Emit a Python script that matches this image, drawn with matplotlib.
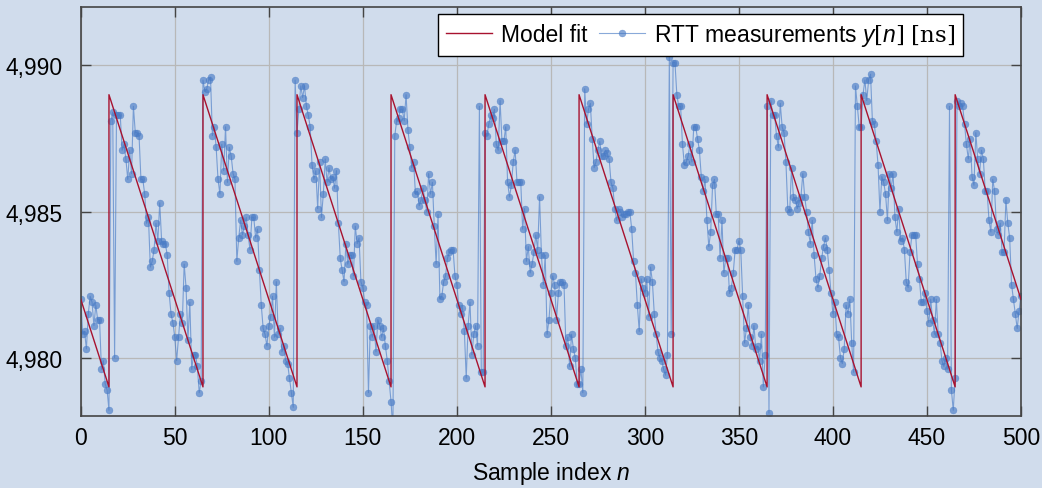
import matplotlib
matplotlib.use("Agg")
import matplotlib.pyplot as plt
import numpy as np
from matplotlib.ticker import FuncFormatter

rtt_p0 = [4.9820, 4.9808, 4.9809, 4.9803, 4.9815, 4.9821, 4.9819, 4.9811, 4.9818, 4.9813,
          4.9813, 4.9796, 4.9799, 4.9791, 4.9789, 4.9782]
rtt_p1 = [4.9881, 4.9884, 4.9800, 4.9883, 4.9883, 4.9883, 4.9871, 4.9873, 4.9868, 4.9861,
          4.9871, 4.9863, 4.9886, 4.9877, 4.9877, 4.9876, 4.9861, 4.9861, 4.9856, 4.9846,
          4.9848, 4.9831, 4.9833, 4.9837, 4.9846, 4.9840, 4.9853, 4.9840, 4.9839, 4.9839,
          4.9835, 4.9822, 4.9815, 4.9812, 4.9807, 4.9799, 4.9807, 4.9815, 4.9812, 4.9832,
          4.9824, 4.9806, 4.9819, 4.9796, 4.9801, 4.9801, 4.9797, 4.9788, 4.9792]
rtt_p2 = [4.9895, 4.9891, 4.9892, 4.9895, 4.9896, 4.9876, 4.9879, 4.9872, 4.9861, 4.9856,
          4.9873, 4.9864, 4.9879, 4.9860, 4.9872, 4.9869, 4.9863, 4.9861, 4.9833, 4.9841,
          4.9847, 4.9842, 4.9845, 4.9848, 4.9842, 4.9837, 4.9848, 4.9848, 4.9841, 4.9844,
          4.9830, 4.9818, 4.9810, 4.9808, 4.9804, 4.9811, 4.9814, 4.9821, 4.9807, 4.9826,
          4.9808, 4.9810, 4.9802, 4.9804, 4.9799, 4.9798, 4.9793, 4.9788, 4.9783]
rtt_p3 = [4.9895, 4.9877, 4.9885, 4.9893, 4.9889, 4.9893, 4.9886, 4.9883, 4.9879, 4.9866,
          4.9861, 4.9864, 4.9851, 4.9867, 4.9848, 4.9856, 4.9868, 4.9860, 4.9865, 4.9861,
          4.9862, 4.9858, 4.9864, 4.9846, 4.9834, 4.9830, 4.9826, 4.9839, 4.9832, 4.9835,
          4.9835, 4.9828, 4.9845, 4.9839, 4.9841, 4.9826, 4.9824, 4.9819, 4.9818, 4.9788,
          4.9811, 4.9807, 4.9811, 4.9802, 4.9813, 4.9811, 4.9807, 4.9810, 4.9804, 4.9799,
          4.9792, 4.9785, 4.9775]
rtt_p4 = [4.9876, 4.9881, 4.9882, 4.9885, 4.9885, 4.9881, 4.9890, 4.9878, 4.9872, 4.9865,
          4.9867, 4.9856, 4.9857, 4.9852, 4.9854, 4.9858, 4.9854, 4.9850, 4.9863, 4.9856,
          4.9860, 4.9845, 4.9832, 4.9849, 4.9820, 4.9821, 4.9826, 4.9828, 4.9834, 4.9836,
          4.9837, 4.9837, 4.9828, 4.9825, 4.9818, 4.9815, 4.9817,
          4.9809, 4.9793, 4.9811, 4.9819, 4.9801, 4.9808, 4.9811, 4.9804, 4.9886, 4.9795, 4.9795]
rtt_p5 = [4.9877, 4.9876, 4.9880, 4.9883, 4.9882, 4.9885, 4.9873, 4.9871, 4.9888, 4.9874,
          4.9874, 4.9879, 4.9860, 4.9855, 4.9859, 4.9867, 4.9871, 4.9860, 4.9860, 4.9860,
          4.9844, 4.9851, 4.9833, 4.9838, 4.9829, 4.9832, 4.9836, 4.9842, 4.9837, 4.9855,
          4.9835, 4.9825, 4.9835, 4.9808, 4.9813, 4.9822, 4.9828, 4.9825, 4.9813, 4.9822,
          4.9826, 4.9826, 4.9825, 4.9804, 4.9807, 4.9797, 4.9808, 4.9803, 4.9800, 4.9791,
          4.9791, 4.9796, 4.9788]
rtt_p6 = [4.9892, 4.9880, 4.9885, 4.9887, 4.9875, 4.9865, 4.9867, 4.9871, 4.9874, 4.9869,
          4.9869, 4.9871, 4.9870, 4.9868, 4.9860, 4.9858, 4.9851, 4.9847, 4.9851, 4.9850,
          4.9848, 4.9849, 4.9849, 4.9850, 4.9850, 4.9844, 4.9833, 4.9829, 4.9818, 4.9809,
          4.9827, 4.9824, 4.9822, 4.9827, 4.9814, 4.9831, 4.9826, 4.9815, 4.9808, 4.9802,
          4.9800, 4.9799, 4.9796, 4.9794, 4.9801]
rtt_p7 = [4.9903, 4.9808, 4.9901, 4.9901, 4.9890, 4.9886, 4.9886, 4.9873, 4.9866, 4.9867,
          4.9869, 4.9873, 4.9867, 4.9879, 4.9879, 4.9875, 4.9871, 4.9862, 4.9857, 4.9861, 4.9847,
          4.9838, 4.9843, 4.9859, 4.9861, 4.9849, 4.9849, 4.9834, 4.9847, 4.9829, 4.9834,
          4.9834, 4.9822, 4.9824, 4.9829, 4.9837, 4.9837, 4.9840, 4.9837, 4.9821, 4.9805,
          4.9810, 4.9818, 4.9807, 4.9804, 4.9811, 4.9803, 4.9804, 4.9799, 4.9808, 4.9790,
          4.9801, 4.9886, 4.9781]
rtt_p8 = [4.9888, 4.9883, 4.9883, 4.9876, 4.9872, 4.9887, 4.9879, 4.9877, 4.9867, 4.9851, 4.9850,
          4.9865, 4.9855, 4.9854, 4.9851, 4.9853, 4.9855, 4.9863, 4.9855, 4.9850, 4.9843,
          4.9839, 4.9847, 4.9835, 4.9827, 4.9824, 4.9828, 4.9834, 4.9838, 4.9841, 4.9837,
          4.9830, 4.9822, 4.9815, 4.9819, 4.9808, 4.9807, 4.9800, 4.9798, 4.9803, 4.9818,
          4.9815, 4.9820, 4.9805, 4.9795]
rtt_p9 = [4.9893, 4.9886, 4.9879, 4.9879, 4.9890, 4.9895, 4.9888, 4.9895, 4.9897, 4.9881,
          4.9880, 4.9874, 4.9866, 4.9850, 4.9862, 4.9860, 4.9856, 4.9847, 4.9863, 4.9858,
          4.9863, 4.9848, 4.9843, 4.9851, 4.9840, 4.9841, 4.9837, 4.9826, 4.9824, 4.9836,
          4.9842, 4.9842, 4.9842, 4.9832, 4.9827, 4.9819, 4.9819, 4.9822, 4.9816, 4.9812,
          4.9820, 4.9813, 4.9808, 4.9820, 4.9808, 4.9805, 4.9799, 4.9797, 4.9800, 4.9796,
          4.9886, 4.9789, 4.9782, 4.9793]
rtt_p10 = [4.9888, 4.9886, 4.9887, 4.9886, 4.9880, 4.9873, 4.9868, 4.9875, 4.9862, 4.9859,
           4.9877, 4.9868, 4.9863, 4.9871, 4.9868, 4.9857, 4.9857, 4.9847, 4.9843, 4.9861,
           4.9857, 4.9844, 4.9842, 4.9846, 4.9836, 4.9836, 4.9854, 4.9846, 4.9841, 4.9825,
           4.9820, 4.9815, 4.9810, 4.9816, 4.9821]

# model fit: sawtooth knots (sample index, ns)
fit_n = [0, 15, 15, 65, 65, 115, 115, 165, 165, 215, 215,
         265, 265, 315, 315, 365, 365, 415, 415, 465, 465, 500]
fit_y = [4.982, 4.979, 4.989, 4.979, 4.989, 4.979, 4.989, 4.979, 4.989, 4.979, 4.989,
         4.979, 4.989, 4.979, 4.989, 4.979, 4.989, 4.979, 4.989, 4.979, 4.989, 4.982]

x_ticks = [0, 50, 100, 150, 200, 250, 300, 350, 400, 450, 500]
y_ticks = [4.980, 4.985, 4.990]

BG = "#d0dcec"
RED = "#a8122f"
BLUE = "#4a7cc6"

rtt = np.concatenate([rtt_p0, rtt_p1, rtt_p2, rtt_p3, rtt_p4, rtt_p5,
                      rtt_p6, rtt_p7, rtt_p8, rtt_p9, rtt_p10])
n = np.arange(len(rtt))

plt.rcParams["font.family"] = ["Liberation Sans", "DejaVu Sans"]
plt.rcParams["mathtext.fontset"] = "custom"
plt.rcParams["mathtext.rm"] = "DejaVu Serif"
plt.rcParams["mathtext.it"] = "Liberation Sans:italic"

fig = plt.figure(figsize=(10.42, 4.89), dpi=100, facecolor=BG)
ax = fig.add_axes([0.0775, 0.147, 0.9023, 0.8366], facecolor=BG)

ax.plot(n, rtt, color=BLUE, lw=0.8, alpha=0.65, marker="o", ms=5.0,
        markerfacecolor=BLUE, markeredgecolor=BLUE, markeredgewidth=0.3,
        label=r"RTT measurements $y[n]$ $\mathrm{[ns]}$", zorder=2)
ax.plot(fit_n, fit_y, color=RED, lw=1.0, label="Model fit", zorder=3)

ax.set_xlim(0, 500)
ax.set_ylim(4.978, 4.992)
ax.set_xticks(x_ticks)
ax.set_yticks(y_ticks)
ax.yaxis.set_major_formatter(FuncFormatter(lambda v, _: f"{v:.3f}".replace(".", ",")))
ax.grid(True, color="#b8b8b8", lw=0.9)
ax.set_axisbelow(True)
ax.tick_params(direction="in", length=7, width=1.0, color="#444444",
               top=True, right=True, labelsize=16.5)
ax.tick_params(axis="x", pad=7)
ax.tick_params(axis="y", pad=13)
for sp in ax.spines.values():
    sp.set_color("#444444")
    sp.set_linewidth(1.2)

ax.set_xlabel(r"Sample index $n$", fontsize=16.5, labelpad=7)

handles, labels = ax.get_legend_handles_labels()
leg = ax.legend(handles[::-1], labels[::-1], ncol=2, loc="upper right",
                bbox_to_anchor=(0.9383, 0.983), borderaxespad=0, fontsize=16.5,
                fancybox=False, framealpha=1, edgecolor="black",
                handlelength=2.0, handletextpad=0.4, columnspacing=0.5,
                borderpad=0.35)
leg.get_frame().set_linewidth(1.0)

fig.savefig("out.png", dpi=100, facecolor=BG)
